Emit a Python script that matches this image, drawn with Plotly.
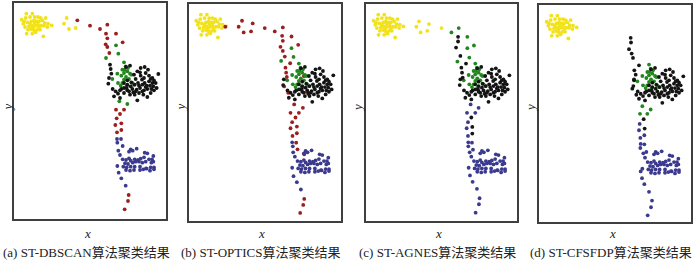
import plotly.graph_objects as go

W, H = 700, 260

# ---- shared point sets (panel-frame coordinates, x: 0..456, y: 0..648 downward) ----
YELLOW_CORE = [(37,32),(55,32),(23,50),(35,45),(48,42),(62,42),(72,42),(80,45),(95,45),(28,62),
               (40,58),(52,55),(60,52),(68,55),(75,55),(85,52),(92,60),(102,62),(113,67),(33,72),
               (45,70),(55,68),(65,68),(72,65),(82,68),(90,68),(42,80),(52,78),(60,82),(70,80),
               (78,80),(38,92),(55,92),(65,88),(88,100),(100,72),(48,62),(58,74),(75,72),(30,55),(62,60)]

BLACK_CORE = [(348,188),(336,192),(380,195),(392,192),(402,200),(370,205),(378,208),(395,210),(405,218),
              (433,213),(360,215),(380,218),(415,225),(410,228),(390,225),(365,228),(384,230),(340,232),
              (420,232),(352,238),(372,240),(392,240),(405,235),(415,240),(425,240),(330,240),(340,245),
              (362,245),(385,245),(398,248),(408,248),(418,250),(350,250),(330,255),(322,258),(378,255),
              (355,258),(296,258),(368,260),(390,262),(400,258),(340,262),(305,265),(365,265),(312,272),
              (330,270),(358,268),(375,270),(410,270),(348,275),(300,280),(318,285),(400,282),(370,292),
              (283,242),(285,225),(395,252),(345,265),(385,265),(428,255),(338,255),(362,275),(318,262),
              (412,258),(375,248),(388,275),(420,262)]

GREEN_CORE = [(330,178),(335,190),(325,200),(330,210),(340,205),(348,212),(322,218),(336,222),(345,228),
              (330,230),(295,228),(312,240),(320,248),(338,248),(352,215),(355,240),(360,245),(310,212),
              (325,240),(342,195),(332,200)]

BLUE_CORE = [(350,439),(345,446),(356,443),(368,437),(392,449),(400,451),(418,459),(326,469),(336,471),
             (345,466),(350,473),(362,469),(372,471),(380,467),(390,463),(405,469),(414,469),(412,479),
             (418,476),(333,481),(342,483),(356,479),(365,476),(375,476),(385,479),(395,476),(328,491),
             (338,493),(350,491),(362,491),(310,489),(378,491),(396,496),(410,493),(420,493),(336,501),
             (348,503),(360,501),(378,501),(388,499),(398,497),(408,503),(420,499),(318,456),(313,443)]

# ---- panel-specific points ----
RED_A = [(190,52),(228,68),(258,78),(280,65),(276,92),(306,92),(280,106),(275,124),(280,132),(326,118),
         (286,150),(306,320),(330,320),(318,333),(308,346),(322,361),(304,366),(322,381),(309,388),
         (344,576),(342,594),(332,619)]
YELLOW_A = [(158,45),(150,62),(165,78),(185,75)]
GREEN_A = [(306,127),(313,152),(276,165),(316,295),(340,303)]
BLACK_A = [(288,185),(290,198),(292,212)]
BLUE_A = [(309,408),(321,408),(310,419),(326,429),(314,509),(322,526),(335,548)]

RED_B = [(110,68),(160,50),(150,68),(165,85),(192,58),(187,82),(228,72),(258,82),(282,70),(280,95),
         (308,97),(282,110),(275,128),(282,140),(328,122),(288,157),(304,177),(290,190),(292,205),
         (294,218),(286,246),(298,265),(316,300),(342,310),(305,325),(330,325),(320,339),(310,353),
         (324,366),(305,371),(324,386),(311,394),(322,414),(326,434),(346,449),(345,215),(340,250),
         (355,262),(346,582),(343,600),(334,624)]
YELLOW_B = []
GREEN_B = [(308,132),(314,158),(277,170)]
BLACK_B = []
BLUE_B = [(310,413),(312,425),(314,514),(324,532),(336,554)]

RED_C = []
YELLOW_C = [(160,52),(152,68),(165,85),(190,60),(185,80),(228,72)]
GREEN_C = [(258,85),(280,72),(306,98),(326,124),(306,132),(312,160),(276,172)]
BLACK_C = [(278,98),(278,112),(272,130),(285,155),(302,178),(288,190),(290,205),(292,220),
           (318,339),(321,367),(321,387)]
BLUE_C = [(316,300),(340,310),(305,325),(330,325),(308,353),(304,371),(308,394),(309,413),(320,414),
          (309,425),(323,435),(314,512),(322,531),(335,552),(343,580),(341,598),(331,623)]

RED_D = []
YELLOW_D = []
GREEN_D = [(310,302),(335,312),(303,325),(325,325)]
BLACK_D = [(275,98),(276,112),(270,132),(278,145),(282,158),(300,180),(286,195),(290,208),(285,222),
           (280,250),(292,268),(314,341),(317,369)]
BLUE_D = [(302,355),(300,374),(316,389),(304,397),(305,415),(316,416),(304,427),(322,439),(305,497),
          (309,517),(316,535),(330,558),(339,584),(336,604),(326,628)]

CAPTIONS = ["(a) ST-DBSCAN算法聚类结果", "(b) ST-OPTICS算法聚类结果",
            "(c) ST-AGNES算法聚类结果", "(d) ST-CFSFDP算法聚类结果"]

COLORS = {"yellow": "#f2e21a", "red": "#9c1f1f", "green": "#23861f",
          "black": "#141414", "blue": "#3b3a8e"}

PANELS = [
    {"yellow": YELLOW_CORE + YELLOW_A, "red": RED_A, "green": GREEN_CORE + GREEN_A,
     "black": BLACK_CORE + BLACK_A, "blue": BLUE_CORE + BLUE_A},
    {"yellow": YELLOW_CORE + YELLOW_B, "red": RED_B, "green": GREEN_CORE + GREEN_B,
     "black": BLACK_CORE + BLACK_B, "blue": BLUE_CORE + BLUE_B},
    {"yellow": YELLOW_CORE + YELLOW_C, "red": RED_C, "green": GREEN_CORE + GREEN_C,
     "black": BLACK_CORE + BLACK_C, "blue": BLUE_CORE + BLUE_C},
    {"yellow": YELLOW_CORE + YELLOW_D, "red": RED_D, "green": GREEN_CORE + GREEN_D,
     "black": BLACK_CORE + BLACK_D, "blue": BLUE_CORE + BLUE_D},
]

# frame boxes in pixels: (left, right, top, bottom)
FRAMES = [(14, 166, 3, 219), (188.5, 341, 4, 221), (366, 517, 4, 221), (539, 691, 5, 222)]

fig = go.Figure()
layout = dict(width=W, height=H, margin=dict(l=0, r=0, t=0, b=0),
              paper_bgcolor="white", plot_bgcolor="white", showlegend=False)
annotations = []
serif = "Liberation Serif, Times New Roman, Noto Sans CJK SC, serif"

for i, (panel, frame) in enumerate(zip(PANELS, FRAMES)):
    n = "" if i == 0 else str(i + 1)
    L, R, T, B = frame
    for cname in ["yellow", "red", "green", "black", "blue"]:
        pts = panel[cname]
        if not pts:
            continue
        fig.add_trace(go.Scatter(
            x=[p[0] for p in pts], y=[p[1] for p in pts], mode="markers",
            marker=dict(size=3.8, color=COLORS[cname], line=dict(width=0)),
            xaxis="x" + n, yaxis="y" + n, hoverinfo="skip"))
    ax = dict(domain=[L / W, R / W], range=[0, 456], showgrid=False, zeroline=False,
              showticklabels=False, ticks="", showline=True, mirror=True,
              linecolor="#3f3f3f", linewidth=1.8, anchor="y" + n)
    ay = dict(domain=[1 - B / H, 1 - T / H], range=[648, 0], showgrid=False, zeroline=False,
              showticklabels=False, ticks="", showline=True, mirror=True,
              linecolor="#3f3f3f", linewidth=1.8, anchor="x" + n)
    layout["xaxis" + n] = ax
    layout["yaxis" + n] = ay
    cx = (L + R) / 2
    annotations.append(dict(x=(cx - 3) / W, y=1 - 233 / H, xref="paper", yref="paper",
                            xanchor="center", yanchor="middle",
                            text="<i>x</i>", showarrow=False,
                            font=dict(family=serif, size=13, color="#222")))
    annotations.append(dict(x=max(L - 9, 6.5) / W, y=1 - 108 / H, xref="paper", yref="paper",
                            xanchor="center", yanchor="middle",
                            text="<i>y</i>", showarrow=False, textangle=-90,
                            font=dict(family=serif, size=13, color="#222")))
    annotations.append(dict(x=(cx - 4) / W, y=1 - 252 / H, xref="paper", yref="paper",
                            xanchor="center", yanchor="middle",
                            text=CAPTIONS[i], showarrow=False,
                            font=dict(family=serif, size=13, color="#222")))

layout["annotations"] = annotations
fig.update_layout(**layout)
fig.write_html("out.html", config={"displayModeBar": False, "staticPlot": True},
               post_script="document.body.style.margin='0px';document.body.style.padding='0px';")
